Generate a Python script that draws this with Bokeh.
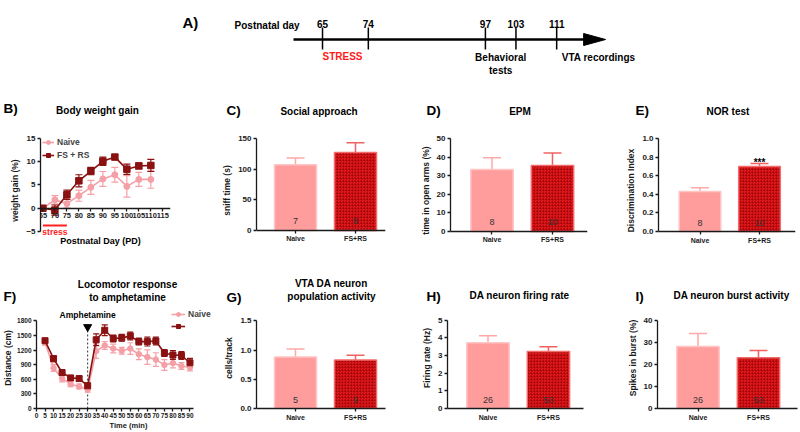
from bokeh.plotting import figure
from bokeh.layouts import column, row
from bokeh.models import (Range1d, FixedTicker, Label, Legend, LegendItem, Whisker, TeeHead,
                          ColumnDataSource, NumeralTickFormatter)
from bokeh.core.properties import value
from bokeh.embed import file_html
from bokeh.resources import INLINE

FONT = "Liberation Sans"

# ---------------- data ----------------
timeline_days = [65, 74, 97, 103, 111]

groups = ["Naive", "FS+RS"]

# B) body weight gain
bw_days = [65, 70, 75, 80, 85, 90, 95, 100, 105, 110]
bw_naive = [0, 1.8, 1.0, 2.7, 4.5, 6.3, 7.2, 4.7, 6.2, 6.2]
bw_naive_err = [0, 0.9, 0.9, 1.2, 1.5, 1.6, 1.6, 2.3, 1.5, 1.9]
bw_fs = [0, -0.4, 2.9, 5.9, 8.0, 10.1, 11.0, 8.4, 9.1, 9.2]
bw_fs_err = [0, 1.1, 1.0, 1.3, 0.8, 0.9, 0.5, 1.1, 0.6, 1.3]
stress_period = [65, 75]

# C) social approach
sa_vals = [107, 127]
sa_err = [11, 16]
sa_n = [7, 8]
# D) EPM
epm_vals = [33.3, 35.5]
epm_err = [6.3, 6.7]
epm_n = [8, 10]
# E) NOR
nor_vals = [0.43, 0.70]
nor_err = [0.04, 0.03]
nor_n = [8, 10]
# F) locomotor response
loco_time = [5, 10, 15, 20, 25, 30, 35, 40, 45, 50, 55, 60, 65, 70, 75, 80, 85, 90]
loco_naive = [1360, 829, 615, 499, 453, 388, 1178, 1295, 1230, 1185, 1230, 1114, 1055, 1004, 894, 932, 874, 842]
loco_naive_err = [60, 70, 70, 50, 50, 50, 150, 80, 90, 70, 120, 110, 150, 140, 110, 100, 70, 70]
loco_fs = [1392, 1023, 738, 628, 615, 466, 1411, 1606, 1437, 1450, 1489, 1373, 1373, 1386, 1140, 1100, 1088, 939]
loco_fs_err = [40, 60, 50, 40, 40, 60, 120, 110, 70, 70, 80, 70, 90, 80, 70, 90, 80, 90]
amph_time = 30
# G) population activity
pop_vals = [0.88, 0.83]
pop_err = [0.14, 0.08]
pop_n = [5, 9]
# H) firing rate
fr_vals = [3.72, 3.22]
fr_err = [0.40, 0.28]
fr_n = [26, 53]
# I) burst
bu_vals = [28.3, 23.2]
bu_err = [5.9, 3.3]
bu_n = [26, 53]

# ---------------- styles ----------------
NAIVE_LINE = "#F5A0A6"
FS_LINE = "#8A1111"
BAR_STYLE = {
    "Naive": dict(fill_color="#FF9C9C", line_color="#FFC4C4", hatch_pattern=None, err="#FFA9A9"),
    "FS+RS": dict(fill_color="#EC1B20", line_color="#F26B6B", hatch_pattern="criss_cross", err="#F06262"),
}


def style_axis(ax, tick_size="8px"):
    ax.axis_line_width = 1.3
    ax.axis_line_color = "#1a1a1a"
    ax.major_tick_line_width = 1.3
    ax.major_tick_line_color = "#1a1a1a"
    ax.major_tick_out = 3
    ax.major_tick_in = 0
    ax.minor_tick_line_color = None
    ax.major_label_text_font = FONT
    ax.major_label_text_font_style = "bold"
    ax.major_label_text_font_size = tick_size
    ax.major_label_text_color = "#1a1a1a"
    ax.major_label_standoff = 2
    ax.axis_label_text_font = FONT
    ax.axis_label_text_font_style = "bold"
    ax.axis_label_text_font_size = "8.5px"
    ax.axis_label_text_color = "#1a1a1a"
    ax.axis_label_standoff = 3


def base_fig(w, h, l, r, t, b, xr, yr):
    p = figure(width=w, height=h, x_range=Range1d(*xr), y_range=Range1d(*yr),
               output_backend="svg", toolbar_location=None,
               min_border_left=l, min_border_right=r, min_border_top=t, min_border_bottom=b)
    p.outline_line_color = None
    p.xgrid.visible = False
    p.ygrid.visible = False
    for ax in list(p.xaxis) + list(p.yaxis):
        style_axis(ax)
    return p


def txt(p, x, y, s, size="10px", align="center", color="black", style="bold",
        baseline="middle", xu="data", yu="data"):
    p.add_layout(Label(x=x, y=y, x_units=xu, y_units=yu, text=s, text_font=FONT,
                       text_font_size=size, text_font_style=style, text_color=color,
                       text_align=align, text_baseline=baseline))


def header(h, items):
    """Strip that carries the panel letters and titles of one row."""
    p = figure(width=800, height=h, x_range=Range1d(0, 800), y_range=Range1d(h, 0),
               output_backend="svg", toolbar_location=None, x_axis_type=None, y_axis_type=None,
               min_border_left=0, min_border_right=0, min_border_top=0, min_border_bottom=0)
    p.outline_line_color = None
    p.xgrid.visible = False
    p.ygrid.visible = False
    for (x, y, s, kind) in items:
        if kind == "letter":
            txt(p, x, y, s, size="13.5px", align="left")
        else:
            txt(p, x, y, s, size="10px")
    return p


def bar_panel(w, h, l, r, t, b, xr, yr, ymax, yticks, fmt, ylabel, vals, errs, ns,
              n_off=9, stars=None):
    p = base_fig(w, h, l, r, t, b, xr, yr)
    xs = list(range(1, len(groups) + 1))
    for i, g in enumerate(groups):
        st = BAR_STYLE[g]
        kw = dict(fill_color=st["fill_color"], line_color=st["line_color"], line_width=1.5)
        if st["hatch_pattern"]:
            kw.update(hatch_pattern=st["hatch_pattern"], hatch_color="#8A0000",
                      hatch_alpha=0.38, hatch_scale=3, hatch_weight=1)
        p.vbar(x=[xs[i]], top=[vals[i]], bottom=0, width=0.7, **kw)
        src = ColumnDataSource(dict(x=[xs[i]], lo=[vals[i]], hi=[vals[i] + errs[i]]))
        p.add_layout(Whisker(source=src, base="x", lower="lo", upper="hi",
                             line_color=st["err"], line_width=1.5,
                             upper_head=TeeHead(size=18, line_color=st["err"], line_width=1.5),
                             lower_head=None))
    p.text(x=xs, y=[0] * len(xs), text=[str(n) for n in ns], y_offset=-n_off,
           text_font=value(FONT), text_font_size="9px", text_color="#333333",
           text_align="center", text_baseline="middle")
    if stars:
        i = groups.index(stars[0])
        p.text(x=[xs[i]], y=[vals[i] + errs[i]], text=[stars[1]], y_offset=4,
               text_font=value(FONT), text_font_size="10px", text_font_style="bold",
               text_align="center", text_baseline="bottom")
    if yr[0] < 0:
        p.xaxis.fixed_location = 0
    p.yaxis.bounds = (0, ymax)
    p.xaxis.ticker = FixedTicker(ticks=xs)
    p.xaxis.major_label_overrides = {x: g for x, g in zip(xs, groups)}
    p.xaxis.major_label_text_font_size = "7px"
    p.yaxis.ticker = FixedTicker(ticks=yticks)
    if fmt:
        p.yaxis.formatter = NumeralTickFormatter(format=fmt)
    p.yaxis.axis_label = ylabel
    return p


def add_whiskers(p, xs, ys, es, color, head):
    src = ColumnDataSource(dict(x=xs, lo=[v - e for v, e in zip(ys, es)],
                                hi=[v + e for v, e in zip(ys, es)]))
    p.add_layout(Whisker(source=src, base="x", lower="lo", upper="hi", line_color=color,
                         line_width=1.2,
                         upper_head=TeeHead(size=head, line_color=color, line_width=1.2),
                         lower_head=TeeHead(size=head, line_color=color, line_width=1.2)))


def legend(items, loc, spacing, gw):
    return Legend(items=items, location=loc, padding=0, spacing=spacing, glyph_height=10,
                  glyph_width=gw, label_height=10, label_standoff=3, margin=0,
                  border_line_color=None, background_fill_alpha=0, label_text_font=FONT,
                  label_text_font_size="8.5px", label_text_font_style="bold")


# ---------------- A) timeline ----------------
tl = figure(width=800, height=90, x_range=Range1d(1.74, 158.9), y_range=Range1d(90, 0),
            output_backend="svg", toolbar_location=None, x_axis_type=None, y_axis_type=None,
            min_border_left=0, min_border_right=0, min_border_top=0, min_border_bottom=0)
tl.outline_line_color = None
tl.xgrid.visible = False
tl.ygrid.visible = False
tl.segment(x0=[59.3], y0=[39], x1=[117.0], y1=[39], line_width=2.6, line_color="black")
tl.patch(x=[116.3, 120.6, 116.3], y=[33, 39, 45], fill_color="black", line_color="black")
tl.segment(x0=timeline_days, y0=[27] * len(timeline_days), x1=timeline_days,
           y1=[49] * len(timeline_days), line_width=1.5, line_color="black")
tl.text(x=timeline_days, y=[23.5] * len(timeline_days), text=[str(d) for d in timeline_days],
        text_font=value(FONT), text_font_size="10px", text_font_style="bold",
        text_align="center", text_baseline="middle")
txt(tl, 37.5, 22, "A)", size="15px", align="left")
txt(tl, 60.5, 24.5, "Postnatal day", align="right")
txt(tl, timeline_days[0], 56, "STRESS", align="left", color="#FF1A1A")
txt(tl, (timeline_days[2] + timeline_days[3]) / 2, 57, "Behavioral")
txt(tl, (timeline_days[2] + timeline_days[3]) / 2, 70, "tests")
txt(tl, timeline_days[4] + 1, 57, "VTA recordings", align="left")

# ---------------- row 2 header ----------------
h2 = header(38, [(3, 18, "B)", "letter"), (97, 20, "Body weight gain", "title"),
                 (226, 20, "C)", "letter"), (318.5, 21, "Social approach", "title"),
                 (426, 20, "D)", "letter"), (519.5, 21, "EPM", "title"),
                 (635, 20, "E)", "letter"), (727.5, 21, "NOR test", "title")])

# ---------------- B) body weight ----------------
# all row-2 frames share the same vertical extent (t=3, b=21)
pB = base_fig(200, 142, 40, 30, 3, 21, (64.0, 118.2), (-8.87, 16.5))
pB.xaxis.fixed_location = 0
pB.yaxis.bounds = (-5, 15)
pB.xaxis.ticker = FixedTicker(ticks=list(range(65, 120, 5)))
pB.yaxis.ticker = FixedTicker(ticks=[-5, 0, 5, 10, 15])
pB.xaxis.major_label_text_font_size = "7.5px"
pB.yaxis.axis_label = "weight gain (%)"
ln = pB.line(bw_days, bw_naive, line_color=NAIVE_LINE, line_width=1.6)
sn = pB.scatter(bw_days, bw_naive, marker="circle", size=6, fill_color=NAIVE_LINE, line_color=NAIVE_LINE)
add_whiskers(pB, bw_days, bw_naive, bw_naive_err, NAIVE_LINE, 7)
lf = pB.line(bw_days, bw_fs, line_color=FS_LINE, line_width=1.6)
sf = pB.scatter(bw_days, bw_fs, marker="square", size=6.5, fill_color=FS_LINE, line_color=FS_LINE)
add_whiskers(pB, bw_days, bw_fs, bw_fs_err, FS_LINE, 7)
pB.segment(x0=[stress_period[0]], y0=[-3.7], x1=[stress_period[1]], y1=[-3.7],
           line_color="#FF2020", line_width=2)
txt(pB, sum(stress_period) / 2, -3.95, "stress", size="8.5px", color="#FF2020", baseline="top")
txt(pB, 89, -6.94, "Postnatal Day (PD)", size="9px")
pB.add_layout(legend([LegendItem(label="Naive", renderers=[ln, sn]),
                      LegendItem(label="FS + RS", renderers=[lf, sf])], (2, 89), 3, 12))

# ---------------- C, D, E ----------------
pC = bar_panel(200, 142, 56, 15, 3, 21, (0.35, 2.5), (-31.0, 161.4), 150, [0, 50, 100, 150], None,
               "sniff time (s)", sa_vals, sa_err, sa_n)
pD = bar_panel(200, 142, 50, 13, 3, 21, (0.314, 2.579), (-9.68, 53.76), 50, [0, 10, 20, 30, 40, 50],
               None, "time in open arms (%)", epm_vals, epm_err, epm_n)
pE = bar_panel(200, 142, 58, 5, 3, 21, (0.3025, 2.605), (-0.1935, 1.0753), 1.0,
               [0, 0.2, 0.4, 0.6, 0.8, 1.0], "0.0", "Discrimination Index",
               nor_vals, nor_err, nor_n, stars=("FS+RS", "***"))

# ---------------- row 3 header ----------------
h3 = header(35, [(3, 26, "F)", "letter"), (127, 14, "Locomotor response", "title"),
                 (127, 27, "to amphetamine", "title"),
                 (226, 27, "G)", "letter"), (331, 13, "VTA DA neuron", "title"),
                 (331, 26, "population activity", "title"),
                 (426, 26, "H)", "letter"), (519, 25, "DA neuron firing rate", "title"),
                 (635, 26, "I)", "letter"), (731, 25, "DA neuron burst activity", "title")])

# ---------------- F) locomotor ----------------
# all row-3 frames share the same vertical extent (t=2, b=21)
pF = base_fig(220, 127, 31, 0, 2, 21, (0, 107.9), (0, 2073))
pF.xaxis.bounds = (0, 92)
pF.yaxis.bounds = (0, 1800)
pF.xaxis.ticker = FixedTicker(ticks=list(range(0, 95, 5)))
pF.yaxis.ticker = FixedTicker(ticks=list(range(0, 2100, 300)))
pF.xaxis.major_label_text_font_size = "6.5px"
pF.yaxis.major_label_text_font_size = "6.5px"
pF.xaxis.major_label_standoff = 1
pF.yaxis.axis_label = "Distance (cm)"
pF.yaxis.axis_label_standoff = 1
pF.xaxis.axis_label = "Time (min)"
pF.xaxis.axis_label_standoff = 0
pF.xaxis.axis_label_text_font_size = "7.5px"
pF.segment(x0=[amph_time], y0=[0], x1=[amph_time], y1=[1615], line_color="#333333",
           line_width=1, line_dash="2 2")
pF.scatter([amph_time], [1674], marker="inverted_triangle", size=8, fill_color="black", line_color="black")
lnF = pF.line(loco_time, loco_naive, line_color=NAIVE_LINE, line_width=1.6)
snF = pF.scatter(loco_time, loco_naive, marker="circle", size=5.5, fill_color=NAIVE_LINE, line_color=NAIVE_LINE)
add_whiskers(pF, loco_time, loco_naive, loco_naive_err, NAIVE_LINE, 6)
lfF = pF.line(loco_time, loco_fs, line_color=FS_LINE, line_width=1.6)
sfF = pF.scatter(loco_time, loco_fs, marker="square", size=6, fill_color=FS_LINE, line_color=FS_LINE)
add_whiskers(pF, loco_time, loco_fs, loco_fs_err, FS_LINE, 6)
txt(pF, amph_time, 1914, "Amphetamine", size="8.5px")
pF.add_layout(legend([LegendItem(label="Naive", renderers=[lnF, snF]),
                      LegendItem(label=" ", renderers=[lfF, sfF])], (135, 77), 2, 14))

# ---------------- G, H, I ----------------
pG = bar_panel(180, 127, 36, 15, 2, 21, (0.35, 2.5), (0, 1.728), 1.5, [0, 0.5, 1.0, 1.5], "0.0",
               "cells/track", pop_vals, pop_err, pop_n)
pH = bar_panel(200, 127, 47, 17, 2, 21, (0.33, 2.58), (0, 5.714), 5, [0, 1, 2, 3, 4, 5], None,
               "Firing rate (Hz)", fr_vals, fr_err, fr_n)
pI = bar_panel(200, 127, 57, 3, 2, 21, (0.33, 2.645), (0, 46.07), 40, [0, 10, 20, 30, 40], None,
               "Spikes in burst (%)", bu_vals, bu_err, bu_n)

layout = column(tl, h2, row(pB, pC, pD, pE), h3, row(pF, pG, pH, pI))
open("out.html", "w").write(file_html(layout, INLINE))
